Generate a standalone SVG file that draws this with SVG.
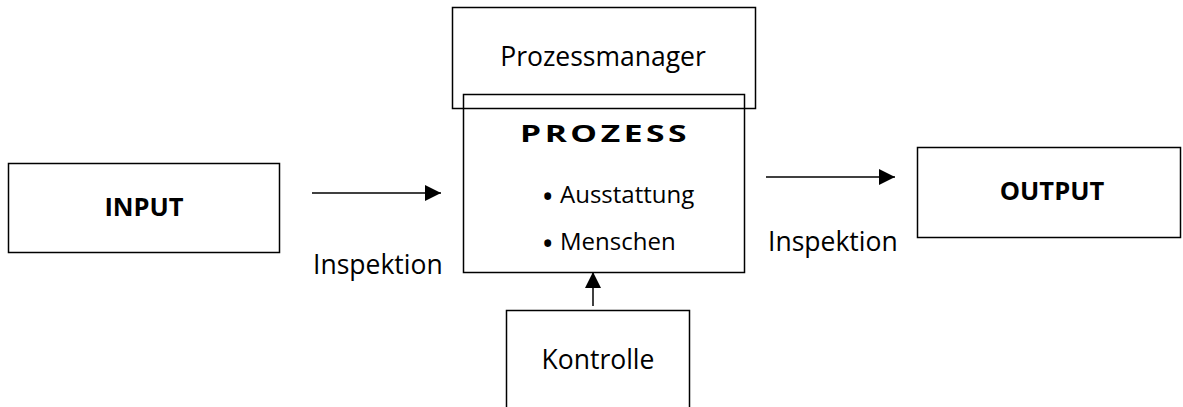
<svg xmlns="http://www.w3.org/2000/svg" width="1183" height="407" viewBox="0 0 1183 407">
<defs>
<marker id="arr" markerWidth="16" markerHeight="16" refX="16" refY="8" orient="auto" markerUnits="userSpaceOnUse">
<path d="M0,0 L16,8 L0,16 Z" fill="#000"/>
</marker>
<style>
.box{fill:#fff;stroke:#000;stroke-width:1.5}
.t{font-family:"Open Sans",sans-serif;fill:#000}
.b{font-weight:bold}
.bul{font-size:33px}
.line{stroke:#000;stroke-width:1.5;fill:none}
</style>
</defs>
<g id="input">
<rect class="box" x="8.5" y="163.5" width="271" height="89"/>
<text class="t b" x="144" y="216" font-size="25.5" text-anchor="middle">INPUT</text>
</g>
<g id="prozessmanager">
<rect class="box" x="452.5" y="7.5" width="303" height="101"/>
<text class="t" x="603" y="66" font-size="26.5" text-anchor="middle">Prozessmanager</text>
</g>
<g id="prozess">
<rect x="463.5" y="94.5" width="281" height="178" style="fill:none;stroke:#000;stroke-width:1.5"/>
<g transform="translate(520,142) scale(1.4,1)">
<text class="t b" x="0" y="0" font-size="24" textLength="119" lengthAdjust="spacing">PROZESS</text>
</g>
<text class="t bul" x="541.5" y="208">•</text>
<text class="t" x="560" y="203" font-size="24">Ausstattung</text>
<text class="t bul" x="541.5" y="255">•</text>
<text class="t" x="560" y="250" font-size="24">Menschen</text>
</g>
<g id="output">
<rect class="box" x="917.5" y="147.5" width="263" height="90"/>
<text class="t b" x="1052" y="200" font-size="25.5" text-anchor="middle">OUTPUT</text>
</g>
<g id="kontrolle">
<path class="line" d="M506.5,410 V310.5 H689.5 V410"/>
<text class="t" x="598" y="369" font-size="26.5" text-anchor="middle">Kontrolle</text>
</g>
<g id="connectors">
<line class="line" x1="312" y1="193" x2="441" y2="193" marker-end="url(#arr)"/>
<line class="line" x1="766" y1="177" x2="895" y2="177" marker-end="url(#arr)"/>
<line class="line" x1="593" y1="306" x2="593" y2="272" marker-end="url(#arr)"/>
<text class="t" x="313" y="274" font-size="26.5">Inspektion</text>
<text class="t" x="768" y="251" font-size="26.5">Inspektion</text>
</g>
</svg>
